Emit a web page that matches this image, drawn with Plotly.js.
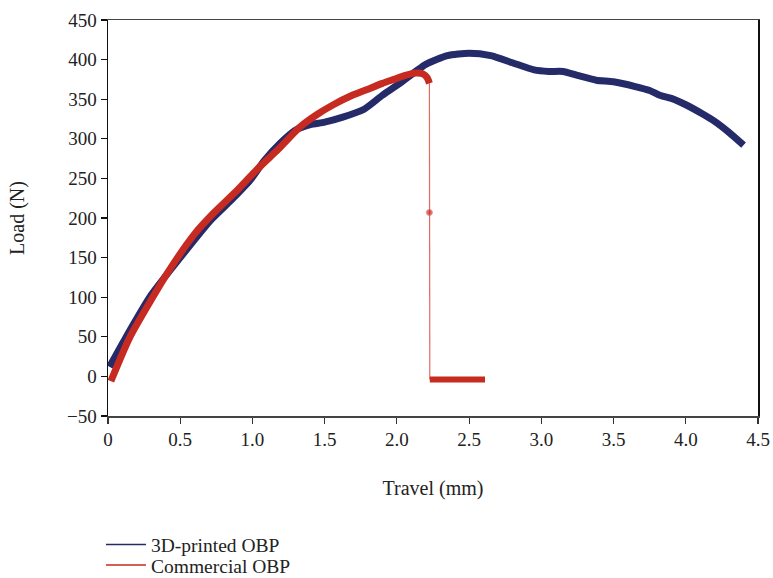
<!DOCTYPE html>
<html>
<head>
<meta charset="utf-8">
<script src="https://cdn.plot.ly/plotly-3.0.1.min.js"></script>
<style>html,body{margin:0;padding:0;background:#fff}</style>
</head>
<body>
<div id="chart" style="width:773px;height:578px"></div>
<script>
// 3D-printed OBP (blue)
const blueX = [0.01, 0.12, 0.3, 0.5, 0.71, 0.85, 0.985, 1.08, 1.19, 1.3, 1.4, 1.5, 1.62, 1.77, 1.9, 2.02, 2.2, 2.35, 2.5, 2.65, 2.8, 2.95, 3.05, 3.15, 3.25, 3.38, 3.5, 3.65, 3.75, 3.82, 3.9, 4.0, 4.12, 4.2, 4.3, 4.4];
const blueY = [12, 48, 103, 150, 197, 222, 248, 272, 294, 311, 318, 321, 327, 337, 355, 370, 394, 405, 408, 405, 396, 387, 385, 385, 380, 374, 372, 366, 361, 355, 351, 343, 331, 322, 308, 292];

// Commercial OBP (red), main loading curve
const redX = [0.02, 0.15, 0.41, 0.6, 0.73, 0.9, 1.03, 1.18, 1.33, 1.45, 1.56, 1.68, 1.79, 1.9, 1.98, 2.06, 2.13, 2.18, 2.21, 2.225];
const redY = [-6, 49, 130, 180, 206, 236, 261, 287, 315, 331, 343, 354, 362, 370, 375, 380, 383, 382, 377, 370];

// Commercial OBP, failure drop (thin line) and post-failure plateau
const dropX = [2.225, 2.225, 2.228];
const dropY = [370, 207, -4];
const plateauX = [2.228, 2.4, 2.61];
const plateauY = [-4, -4, -4];

const xTicks = [0, 0.5, 1.0, 1.5, 2.0, 2.5, 3.0, 3.5, 4.0, 4.5];
const xTickText = ["0", "0.5", "1.0", "1.5", "2.0", "2.5", "3.0", "3.5", "4.0", "4.5"];
const yTicks = [-50, 0, 50, 100, 150, 200, 250, 300, 350, 400, 450];

const BLUE = "#252a68";
const RED = "#c62a20";
const FONT = "Liberation Serif, DejaVu Serif, serif";

const traces = [
  {x: blueX, y: blueY, mode: "lines", line: {color: BLUE, width: 7, shape: "spline", smoothing: 0.6}, showlegend: false, hoverinfo: "skip"},
  {x: dropX, y: dropY, mode: "lines+markers", line: {color: "#e36a62", width: 1.2}, marker: {color: RED, size: [0, 6, 0]}, showlegend: false, hoverinfo: "skip"},
  {x: redX, y: redY, mode: "lines", line: {color: RED, width: 7, shape: "spline", smoothing: 0.6}, showlegend: false, hoverinfo: "skip"},
  {x: plateauX, y: plateauY, mode: "lines", line: {color: RED, width: 6}, showlegend: false, hoverinfo: "skip"},
  {x: [null], y: [null], mode: "lines", name: "3D-printed OBP", line: {color: BLUE, width: 1.5}, legend: "legend"},
  {x: [null], y: [null], mode: "lines", name: "Commercial OBP", line: {color: RED, width: 1.5}, legend: "legend2"}
];

const legendBase = {x: -0.0108, xanchor: "left", yanchor: "top", orientation: "v", itemwidth: 40,
  font: {family: FONT, size: 19.5, color: "#222"}, bgcolor: "rgba(0,0,0,0)"};

const layout = {
  width: 773, height: 578,
  margin: {l: 108, r: 15, t: 20, b: 162, autoexpand: false},
  paper_bgcolor: "#fff", plot_bgcolor: "#fff",
  font: {family: FONT, size: 19, color: "#222"},
  showlegend: true,
  legend: Object.assign({}, legendBase, {y: -0.276}),
  legend2: Object.assign({}, legendBase, {y: -0.328}),
  xaxis: {
    range: [0, 4.5], tickvals: xTicks, ticktext: xTickText,
    ticks: "outside", ticklen: 6, tickcolor: "#333", tickwidth: 1.2,
    showline: true, linecolor: "#444", linewidth: 1.5, mirror: true,
    showgrid: false, zeroline: false,
    tickfont: {family: FONT, size: 19, color: "#222"},
    title: {text: "Travel (mm)", font: {family: FONT, size: 20, color: "#222"}, standoff: 31}
  },
  yaxis: {
    range: [-50, 450], tickvals: yTicks,
    ticks: "outside", ticklen: 6, tickcolor: "#111", tickwidth: 1.2,
    showline: true, linecolor: "#111", linewidth: 1.5, mirror: true,
    showgrid: false, zeroline: false,
    tickfont: {family: FONT, size: 19, color: "#222"},
    title: {text: "Load (N)", font: {family: FONT, size: 20, color: "#222"}, standoff: 37}
  }
};

Plotly.newPlot("chart", traces, layout, {displayModeBar: false, staticPlot: true});
</script>
</body>
</html>
